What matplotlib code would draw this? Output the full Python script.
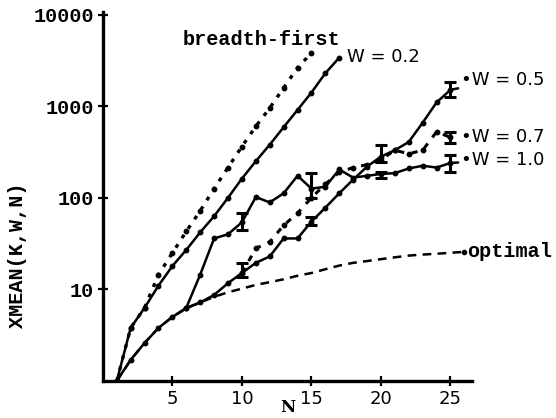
import matplotlib
matplotlib.use("Agg")
import matplotlib.pyplot as plt

# values (log y axis)
n_bf = list(range(1, 16))
breadth_first = [1, 3.8, 6.3, 14.5, 25, 43, 72, 126, 214, 363, 603, 955, 1585, 2630, 3800]

n_w02 = list(range(1, 18))
w02 = [1, 3.8, 6.3, 11, 18, 27, 42, 63, 100, 162, 251, 380, 590, 910, 1410, 2290, 3390]

n_w05 = list(range(1, 26))
w05 = [1, 1.7, 2.6, 3.8, 5.0, 6.3, 7.2, 8.7, 11.7, 15.1, 19.5, 22.9, 36, 36, 55,
       78, 112, 158, 219, 282, 331, 407, 661, 1100, 1510]

n_w07 = list(range(10, 26))
w07 = [15.1, 28, 33, 50, 68, 100, 141, 190, 214, 230, 260, 331, 302, 331, 525, 457]

n_w10 = list(range(6, 26))
w10 = [6.3, 14.5, 36, 40, 54, 102, 89, 112, 174, 126, 132, 204, 166, 174, 182,
       186, 209, 224, 214, 240]

n_opt = list(range(1, 27))
optimal = [1, 1.7, 2.6, 3.8, 5.0, 6.2, 7.2, 8.3, 9.3, 10.2, 11.2, 12.0, 12.9, 14.1,
           15.1, 16.6, 18.2, 19.5, 20.4, 21.4, 22.4, 23.4, 24.0, 24.5, 25.1, 25.7]

# error bars: position, centre, low, high
err_n = [10, 10, 15, 15, 20, 20, 25, 25, 25]
err_mid = [54, 15.1, 126, 55, 282, 182, 1510, 457, 240]
err_lo = [45, 13.5, 100, 50, 245, 166, 1260, 400, 190]
err_hi = [69, 19.5, 186, 62, 380, 190, 1860, 525, 295]

x_ticks = [5, 10, 15, 20, 25]
y_ticks = [10, 100, 1000, 10000]

mono = "Liberation Mono"

fig = plt.figure(figsize=(5.56, 4.18), dpi=100)
ax = fig.add_axes([0.185, 0.0885, 0.664, 0.883])
ax.set_yscale("log")
ax.set_xlim(0, 26.55)
ax.set_ylim(1, 10700)

k = dict(color="black", lw=1.8, marker="o", ms=3.2)
ax.plot(n_bf, breadth_first, ls=(0, (1.2, 2.2)), lw=2.4, color="black", marker="o", ms=3.2)
ax.plot(n_w02, w02, **k)
ax.plot(n_opt, optimal, ls=(0, (3.5, 2.5)), color="black", lw=1.8)
ax.plot(n_w05, w05, **k)
ax.plot(n_w07, w07, ls=(0, (2.0, 2.5)), lw=2.2, color="black", marker="o", ms=3.2)
ax.plot(n_w10, w10, **k)

lo = [m - l for m, l in zip(err_mid, err_lo)]
hi = [h - m for m, h in zip(err_mid, err_hi)]
ax.errorbar(err_n, err_mid, yerr=[lo, hi], fmt="none", ecolor="black",
            elinewidth=2.2, capsize=4, capthick=2.2)

for s in ["top", "right"]:
    ax.spines[s].set_visible(False)
for s in ["left", "bottom"]:
    ax.spines[s].set_linewidth(2.4)

ax.set_xticks(x_ticks)
ax.set_xticklabels([str(v) for v in x_ticks], fontsize=13, family="DejaVu Sans")
ax.set_yticks(y_ticks)
ax.set_yticklabels([str(v) for v in y_ticks], fontsize=14.5, family=mono, fontweight="bold")
ax.minorticks_off()
ax.tick_params(direction="inout", length=7, width=1.6)
ax.tick_params(axis="y", pad=3)
ax.tick_params(axis="x", pad=3)

ax.set_ylabel("XMEAN(K,W,N)", fontsize=14.5, family=mono, fontweight="bold")
ax.yaxis.set_label_coords(-0.206, 0.34)
ax.text(13.3, 0.52, "N", fontsize=12, family="DejaVu Serif", fontweight="bold",
        ha="center", va="center", clip_on=False)

ax.text(5.75, 5350, "breadth-first", fontsize=14.5, family=mono, fontweight="bold",
        va="center", ha="left", clip_on=False)
ax.text(26.2, 25.7, "optimal", fontsize=14.5, family=mono, fontweight="bold",
        va="center", ha="left", clip_on=False)
ax.plot([n_opt[-1]], [optimal[-1]], "o", color="black", ms=3, clip_on=False)

lab = dict(fontsize=13, family="DejaVu Sans", va="center", ha="left")
ax.text(17.55, 3470, "W = 0.2", clip_on=False, **lab)
ax.annotate("\u2022W = 0.5", xy=(n_w05[-1], w05[-1]), xytext=(25.75, 1950),
            annotation_clip=False, arrowprops=dict(arrowstyle="-", lw=1.8, shrinkA=0, shrinkB=0), **lab)
ax.annotate("\u2022W = 0.7", xy=(n_w07[-1], w07[-1]), xytext=(25.75, 465),
            annotation_clip=False, **lab)
ax.annotate("\u2022W = 1.0", xy=(n_w10[-1], w10[-1]), xytext=(25.75, 260),
            annotation_clip=False, arrowprops=dict(arrowstyle="-", lw=1.8, shrinkA=0, shrinkB=0), **lab)

fig.savefig("out.png", dpi=100)
